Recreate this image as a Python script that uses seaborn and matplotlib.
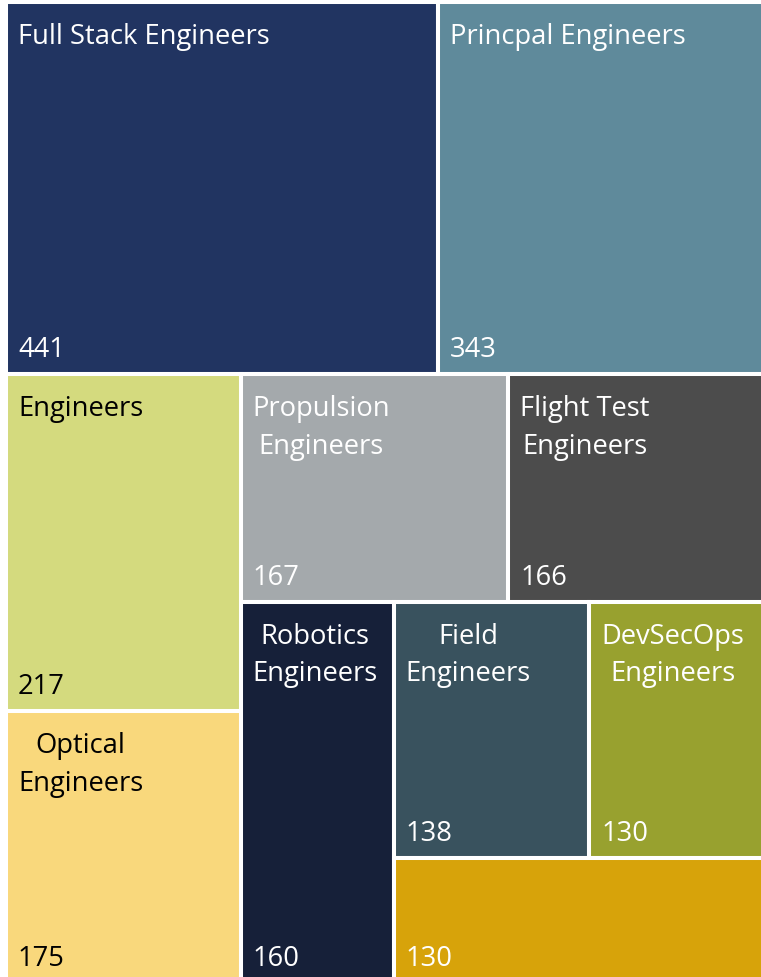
import matplotlib
matplotlib.use("Agg")
import matplotlib.pyplot as plt
import seaborn as sns

# ---- data ----
labels = ["Full Stack Engineers", "Princpal Engineers", "Engineers", "Optical\nEngineers",
          "Propulsion\nEngineers", "Flight Test\nEngineers", "Robotics\nEngineers",
          "Field\nEngineers", "DevSecOps\nEngineers", ""]
values = [441, 343, 217, 175, 167, 166, 160, 138, 130, 130]
colors = ["#213461", "#5F8A9B", "#D4DA7E", "#F9D87C", "#A4A9AC",
          "#4C4C4C", "#162039", "#39525E", "#98A12F", "#D7A30A"]
text_colors = ["white", "white", "black", "black", "white",
               "white", "white", "white", "white", "white"]
groups = [2, 2, 2, 1, 2, 1]   # how many tiles go in each strip

sns.set_theme(style="white")
plt.rcParams["font.family"] = ["Open Sans", "DejaVu Sans"]

W, H = 768.0, 981.0


def layout(vals, grp, x, y, w, h):
    rects = []
    idx = 0
    remaining = float(sum(vals))
    for g in grp:
        items = vals[idx:idx + g]
        s = float(sum(items))
        frac = s / remaining
        if w <= h:  # horizontal strip at top
            rh = h * frac
            cx = x
            for v in items:
                rw = w * v / s
                rects.append((cx, y + h - rh, rw, rh))
                cx += rw
            h -= rh
        else:  # vertical strip at left
            cw = w * frac
            cy = y + h
            for v in items:
                ch = h * v / s
                rects.append((x, cy - ch, cw, ch))
                cy -= ch
            x += cw
            w -= cw
        remaining -= s
        idx += g
    return rects


rects = layout(values, groups, 0.0, 0.0, W, H)

fig = plt.figure(figsize=(7.61, 9.78), dpi=100)
ax = fig.add_axes([6 / 761, -6 / 978, 768 / 761, 981 / 978])

for (x0, y0, w, h), c in zip(rects, colors):
    ax.bar(x0, h, width=w, bottom=y0, align="edge", color=c,
           edgecolor="white", linewidth=2.9)

for (x0, y0, w, h), lab, val, tc in zip(rects, labels, values, text_colors):
    if lab:
        ax.annotate(lab, xy=(x0, y0 + h), xytext=(12, -20), textcoords="offset pixels",
                    ha="left", va="top", multialignment="center",
                    color=tc, fontsize=19.7, linespacing=1.45)
    ax.annotate(str(val), xy=(x0, y0), xytext=(12, 18), textcoords="offset pixels",
                ha="left", va="baseline", color=tc, fontsize=19.7)

ax.set_xlim(0, W)
ax.set_ylim(0, H)
ax.axis("off")

fig.savefig("out.png", dpi=100)
